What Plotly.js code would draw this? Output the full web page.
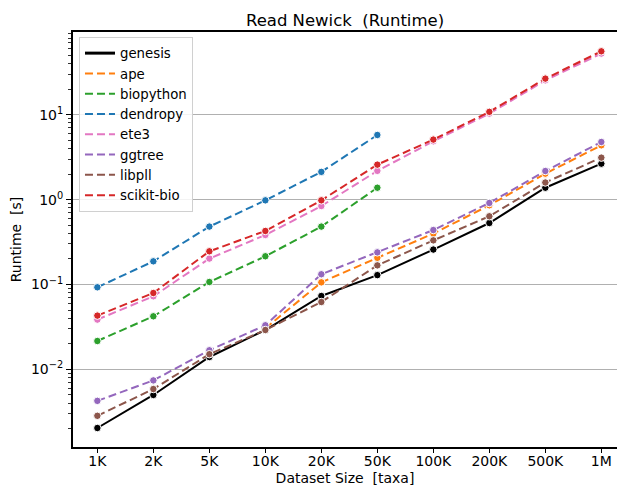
<!DOCTYPE html>
<html>
<head>
<meta charset="utf-8">
<script src="https://cdn.plot.ly/plotly-3.0.1.min.js"></script>
<style>html,body{margin:0;padding:0;background:#fff;}#chart{width:617px;height:486px;}</style>
</head>
<body>
<div id="chart"></div>
<script>
// ---- data ----
const categories = ["1K", "2K", "5K", "10K", "20K", "50K", "100K", "200K", "500K", "1M"];
const seriesNames = ["genesis", "ape", "biopython", "dendropy", "ete3", "ggtree", "libpll", "scikit-bio"];
const genesis   = [0.00204, 0.00500, 0.0140, 0.0291, 0.0732, 0.129, 0.258, 0.530, 1.38, 2.65];
const ape       = [null, null, null, 0.0305, 0.106, 0.206, 0.398, 0.857, 2.02, 4.36];
const biopython = [0.0216, 0.0422, 0.107, 0.215, 0.481, 1.38];
const dendropy  = [0.0927, 0.1875, 0.481, 0.98, 2.12, 5.77];
const ete3      = [0.0386, 0.0726, 0.202, 0.383, 0.84, 2.18, 4.86, 10.3, 25.4, 52.5];
const ggtree    = [0.00426, 0.00742, 0.0168, 0.0331, 0.132, 0.239, 0.438, 0.912, 2.17, 4.77];
const libpll    = [0.00284, 0.00587, 0.0151, 0.0291, 0.0622, 0.168, 0.331, 0.636, 1.59, 3.12];
const scikitbio = [0.043, 0.0794, 0.246, 0.427, 0.98, 2.58, 5.09, 10.8, 26.6, 55.8];
const yTickVals = [0.01, 0.1, 1, 10];
const yTickText = ["10<sup>−2</sup>", "10<sup>−1</sup>", "10<sup>0</sup>", "10<sup>1</sup>"];

// ---- styling ----
const seriesData = [genesis, ape, biopython, dendropy, ete3, ggtree, libpll, scikitbio];
const colors = ["#000000", "#ff7f0e", "#2ca02c", "#1f77b4", "#e377c2", "#9467bd", "#8c564b", "#d62728"];
const FONT = "DejaVu Sans, Liberation Sans, sans-serif";
const NB = "\u00a0";

const traces = [];
seriesData.forEach((vals, i) => {
  traces.push({
    x: categories.slice(0, vals.length),
    y: vals,
    type: "scatter",
    mode: "lines+markers",
    name: seriesNames[i],
    showlegend: false,
    line: {color: colors[i], width: 2, dash: i === 0 ? "solid" : "8px,4px"},
    marker: {color: colors[i], size: 7.5, line: {color: "#ffffff", width: 1}},
    connectgaps: false,
    hoverinfo: "skip"
  });
});
// legend entries (line only, like the reference)
seriesNames.forEach((n, i) => {
  traces.push({
    x: [null], y: [null],
    type: "scatter", mode: "lines",
    name: n,
    line: {color: colors[i], width: i === 0 ? 3 : 2, dash: i === 0 ? "solid" : "8px,4px"},
    hoverinfo: "skip"
  });
});

// minor ticks for the log axis
const minorVals = [];
for (let e = -3; e <= 1; e++) {
  for (let m = 2; m <= 9; m++) minorVals.push(m * Math.pow(10, e));
}

const layout = {
  width: 617, height: 486,
  margin: {l: 73, r: 0, t: 32, b: 39, pad: 0},
  paper_bgcolor: "#ffffff",
  plot_bgcolor: "#ffffff",
  font: {family: FONT, size: 14, color: "#000000"},
  title: {text: "Read Newick" + NB + NB + "(Runtime)", font: {family: FONT, size: 16.5, color: "#000"}, x: 0.5, xref: "paper", y: 1, yref: "paper", yanchor: "bottom", pad: {b: 6}},
  xaxis: {
    type: "category",
    categoryorder: "array",
    categoryarray: categories,
    range: [-0.435, 9.28],
    showgrid: false,
    zeroline: false,
    showline: true, linecolor: "#000", linewidth: 2, mirror: true,
    ticks: "outside", ticklen: 4, tickwidth: 1, tickcolor: "#000",
    ticklabelstandoff: -4,
    tickfont: {family: FONT, size: 14, color: "#000"},
    title: {text: "Dataset Size" + NB + NB + "[taxa]", font: {family: FONT, size: 14, color: "#000"}, standoff: 7}
  },
  yaxis: {
    type: "log",
    range: [-2.914, 1.974],
    tickmode: "array",
    tickvals: yTickVals,
    ticktext: yTickText,
    showgrid: true, gridcolor: "#b0b0b0", gridwidth: 1.6,
    zeroline: false,
    showline: true, linecolor: "#000", linewidth: 2, mirror: false,
    ticks: "outside", ticklen: 5, tickwidth: 1, tickcolor: "#000",
    tickfont: {family: FONT, size: 14, color: "#000"},
    minor: {tickmode: "array", tickvals: minorVals, ticks: "outside", ticklen: 3, tickwidth: 0.8, tickcolor: "#000", showgrid: false},
    title: {text: "Runtime" + NB + NB + "[s]", font: {family: FONT, size: 14, color: "#000"}, standoff: 6}
  },
  legend: {
    x: 0.011, y: 0.988, xanchor: "left", yanchor: "top",
    bgcolor: "rgba(255,255,255,0.85)",
    bordercolor: "#d0d0d0", borderwidth: 1,
    font: {family: FONT, size: 13.3, color: "#000"},
    tracegroupgap: 0,
    itemwidth: 30
  },
  showlegend: true
};

Plotly.newPlot("chart", traces, layout, {staticPlot: true, displayModeBar: false});
</script>
</body>
</html>
